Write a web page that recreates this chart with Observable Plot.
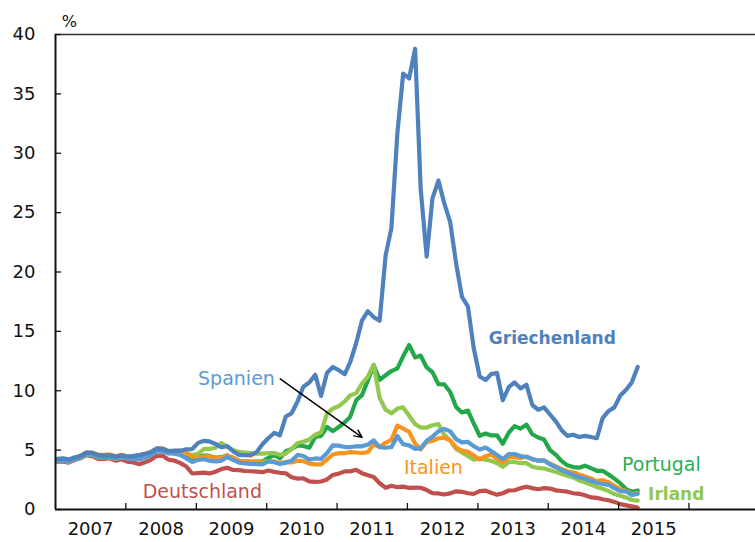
<!DOCTYPE html>
<html>
<head>
<meta charset="utf-8">
<script src="https://cdn.jsdelivr.net/npm/d3@7"></script>
<script src="https://cdn.jsdelivr.net/npm/@observablehq/plot@0.6"></script>
<style>
  html, body { margin: 0; padding: 0; background: #fff; }
  #chart svg { display: block; }
</style>
</head>
<body>
<div id="chart"></div>
<script>
// Monthly 10-year government bond yields, Jan 2007 – Apr 2015 (%)
const countries = ["Deutschland", "Portugal", "Irland", "Italien", "Spanien", "Griechenland"];
const colors    = ["#c0504d", "#22a84a", "#92c84f", "#f7941d", "#5b9bd5", "#4f81bd"];

const deutschland = [
  4.02,4.05,3.95,4.17,4.31,4.57,4.50,4.27,4.26,4.32,4.11,4.23,
  4.02,3.96,3.82,3.98,4.18,4.52,4.53,4.19,4.11,3.91,3.62,3.03,
  3.07,3.11,3.04,3.18,3.40,3.51,3.33,3.32,3.24,3.22,3.19,3.14,
  3.28,3.17,3.09,3.05,2.71,2.60,2.63,2.37,2.32,2.36,2.53,2.91,
  3.02,3.21,3.21,3.34,3.06,2.89,2.74,2.21,1.83,2.00,1.88,1.93,
  1.82,1.85,1.83,1.64,1.38,1.35,1.26,1.36,1.53,1.49,1.37,1.31,
  1.54,1.59,1.41,1.25,1.37,1.60,1.62,1.80,1.92,1.80,1.71,1.80,
  1.76,1.61,1.56,1.50,1.37,1.32,1.20,1.02,0.98,0.86,0.78,0.64,
  0.45,0.35,0.26,0.16
];
const portugal = [
  4.19,4.21,4.12,4.33,4.49,4.76,4.73,4.55,4.56,4.57,4.43,4.55,
  4.41,4.45,4.51,4.62,4.79,5.10,5.07,4.84,4.83,4.76,4.62,4.26,
  4.45,4.55,4.51,4.38,4.39,4.56,4.37,4.12,4.05,3.98,3.95,4.05,
  4.35,4.60,4.31,4.90,5.10,5.40,5.35,5.20,6.10,6.20,6.95,6.60,
  6.95,7.34,7.80,9.19,9.63,10.87,12.15,10.93,11.30,11.66,11.89,12.90,
  13.85,12.81,12.96,11.96,11.57,10.55,10.54,9.89,8.62,8.17,8.33,7.25,
  6.21,6.40,6.24,6.25,5.54,6.47,7.02,6.81,7.15,6.34,6.06,5.90,
  5.00,4.60,4.10,3.72,3.57,3.52,3.69,3.48,3.26,3.25,2.95,2.60,
  2.20,1.70,1.50,1.60
];
const irland = [
  4.09,4.12,4.01,4.22,4.36,4.63,4.59,4.39,4.38,4.40,4.26,4.41,
  4.30,4.36,4.43,4.55,4.71,5.04,5.06,4.85,4.85,4.78,4.69,4.59,
  4.70,5.10,5.10,5.20,5.60,5.30,5.00,4.85,4.80,4.75,4.70,4.70,
  4.75,4.75,4.60,4.70,5.10,5.60,5.70,5.90,6.30,6.50,8.10,8.50,
  8.70,9.10,9.60,9.80,10.60,11.20,12.20,9.40,8.40,8.10,8.50,8.60,
  7.90,7.20,6.90,6.90,7.10,7.20,6.30,5.80,5.10,4.80,4.50,4.20,
  4.30,4.20,4.10,3.90,3.60,4.00,4.00,3.90,3.90,3.60,3.50,3.45,
  3.30,3.15,3.00,2.85,2.70,2.45,2.30,2.10,1.90,1.75,1.55,1.30,
  1.15,1.00,0.80,0.75
];
const italien = [
  4.23,4.25,4.15,4.36,4.52,4.80,4.79,4.61,4.61,4.64,4.49,4.60,
  4.49,4.50,4.53,4.67,4.84,5.15,5.14,4.92,4.92,4.95,4.80,4.45,
  4.40,4.46,4.48,4.36,4.32,4.56,4.35,4.10,4.07,4.05,4.06,4.05,
  4.07,4.05,3.92,3.99,3.96,4.11,4.07,3.86,3.80,3.80,4.21,4.63,
  4.74,4.74,4.83,4.80,4.76,4.82,5.49,5.26,5.62,5.86,7.06,6.81,
  6.54,5.56,5.05,5.68,5.78,6.00,6.04,5.83,5.21,4.96,4.86,4.54,
  4.21,4.49,4.64,4.28,3.97,4.40,4.42,4.33,4.47,4.22,4.12,4.13,
  3.86,3.63,3.42,3.22,3.13,2.94,2.78,2.62,2.39,2.47,2.30,1.99,
  1.71,1.55,1.29,1.40
];
const spanien = [
  4.10,4.13,4.03,4.24,4.39,4.65,4.61,4.43,4.42,4.45,4.30,4.44,
  4.27,4.23,4.22,4.37,4.56,4.90,4.90,4.72,4.70,4.60,4.30,4.00,
  4.18,4.24,4.10,4.05,4.10,4.42,4.18,3.94,3.89,3.83,3.82,3.80,
  4.05,3.98,3.83,3.95,4.10,4.60,4.50,4.20,4.30,4.25,4.75,5.40,
  5.38,5.26,5.25,5.33,5.32,5.48,5.82,5.25,5.20,5.25,6.19,5.50,
  5.40,5.11,5.17,5.79,6.13,6.59,6.79,6.58,5.92,5.65,5.69,5.34,
  5.05,5.22,4.92,4.59,4.25,4.67,4.67,4.50,4.42,4.26,4.11,4.14,
  3.79,3.56,3.32,3.12,2.91,2.71,2.61,2.42,2.25,2.15,2.08,1.79,
  1.54,1.52,1.23,1.32
];
const griechenland = [
  4.27,4.31,4.22,4.38,4.50,4.79,4.78,4.58,4.53,4.57,4.45,4.56,
  4.44,4.51,4.58,4.69,4.83,5.14,5.11,4.91,4.96,4.95,5.07,5.08,
  5.61,5.78,5.73,5.53,5.24,5.33,4.91,4.60,4.57,4.56,4.84,5.49,
  6.02,6.46,6.24,7.83,8.10,9.10,10.34,10.70,11.34,9.57,11.52,12.00,
  11.73,11.40,12.40,14.00,15.90,16.70,16.20,15.90,21.40,23.70,31.70,36.70,
  36.30,38.80,27.00,21.30,26.20,27.70,25.80,24.20,20.70,17.90,17.10,13.60,
  11.20,10.90,11.40,11.50,9.20,10.30,10.70,10.20,10.50,8.80,8.40,8.60,
  8.00,7.40,6.70,6.20,6.30,6.10,6.20,6.10,6.00,7.70,8.30,8.60,
  9.60,10.10,10.70,12.00
];
const seriesValues = [deutschland, portugal, irland, italien, spanien, griechenland];

const yTicks = [0, 5, 10, 15, 20, 25, 30, 35, 40];
const yearTicks = ["2008","2009","2010","2011","2012","2013","2014","2015","2016"];
const yearLabels = ["2007","2008","2009","2010","2011","2012","2013","2014","2015"];

// Direct labels (position in data units: date, %)
const labels = [
  {text: "Spanien",      date: "2009-07-28", value: 11.0, color: "#5b9bd5", weight: "normal", size: 19},
  {text: "Griechenland", date: "2014-01-22", value: 14.4, color: "#4f81bd", weight: "bold",   size: 17},
  {text: "Italien",      date: "2012-05-15", value: 3.48, color: "#f7941d", weight: "normal", size: 19},
  {text: "Deutschland",  date: "2009-02-01", value: 1.46, color: "#c0504d", weight: "normal", size: 19},
  {text: "Portugal",     date: "2015-08-11", value: 3.73, color: "#2aae55", weight: "normal", size: 19},
  {text: "Irland",       date: "2015-10-27", value: 1.29, color: "#92c84f", weight: "bold",   size: 17}
];
const arrowSpec = [{x1: "2010-03-12", y1: 11.0, x2: "2011-05-11", y2: 6.07}];
const unitLabel = [{text: "%", date: "2007-03-14", value: 41.1}];

// ---- build table ----
const parse = s => new Date(s + (s.length === 10 ? "T00:00:00Z" : ""));
const months = d3.utcMonths(new Date(Date.UTC(2007, 0, 1)), new Date(Date.UTC(2015, 4, 1)));
const rows = countries.flatMap((c, k) =>
  seriesValues[k].map((v, i) => ({country: c, date: d3.utcDay.offset(months[i], 9), value: v}))
);
const tickDates = yearTicks.map(y => new Date(Date.UTC(+y, 0, 1)));
const labelDates = yearLabels.map(y => new Date(Date.UTC(+y, 6, 2)));
const x0 = new Date(Date.UTC(2007, 0, 1));
const x1 = new Date(Date.UTC(2017, 0, 1));

const W = 755, H = 542, mL = 55, mR = -4, mT = 34, mB = 33;
const plotW = W - mL - mR, plotH = H - mT - mB;
const font = "DejaVu Sans, Verdana, sans-serif";

const chart = Plot.plot({
  width: W, height: H,
  marginLeft: mL, marginRight: mR, marginTop: mT, marginBottom: mB,
  style: {fontFamily: font, fontSize: "18px", color: "#111", background: "#fff", overflow: "hidden"},
  x: {type: "utc", domain: [x0, x1], axis: null},
  y: {domain: [0, 40], axis: null},
  color: {domain: countries, range: colors},
  marks: [
    Plot.ruleY([40], {stroke: "#333", strokeWidth: 1.3}),
    Plot.line(rows, {
      x: "date", y: "value", z: "country", stroke: "country",
      strokeWidth: 4.2, strokeLinejoin: "round", strokeLinecap: "round"
    }),
    Plot.tickY(yTicks, {y: d => d, insetRight: plotW - 6, stroke: "#111", strokeWidth: 1.3}),
    Plot.tickX(tickDates, {x: d => d, insetTop: plotH - 6, stroke: "#111", strokeWidth: 1.3}),
    Plot.ruleX([x0], {stroke: "#111", strokeWidth: 2}),
    Plot.ruleY([0], {stroke: "#111", strokeWidth: 2}),
    Plot.axisY(yTicks, {tickSize: 0, tickPadding: 20, fontSize: 18, fill: "#111"}),
    Plot.axisX(labelDates, {tickSize: 0, tickPadding: 13, fontSize: 18, fill: "#111",
      tickFormat: d => String(d.getUTCFullYear())}),
    Plot.text(unitLabel, {x: d => parse(d.date), y: "value", text: "text", fontSize: 16, fill: "#111"}),
    Plot.arrow(arrowSpec, {
      x1: d => parse(d.x1), y1: "y1", x2: d => parse(d.x2), y2: "y2",
      stroke: "#000", strokeWidth: 1.4, headLength: 9, headAngle: 50
    }),
    ...labels.map(l => Plot.text([l], {
      x: d => parse(d.date), y: "value", text: "text",
      fill: l.color, fontSize: l.size, fontWeight: l.weight, textAnchor: "middle"
    }))
  ]
});
document.getElementById("chart").appendChild(chart);
</script>
</body>
</html>
